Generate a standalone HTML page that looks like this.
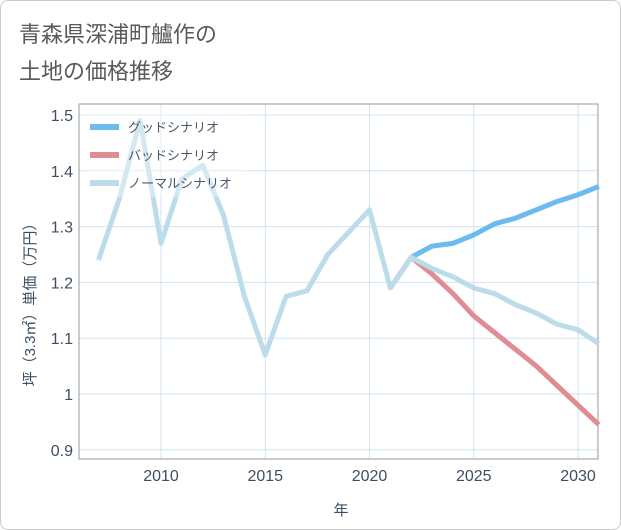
<!DOCTYPE html>
<html><head><meta charset="utf-8"><style>
body{margin:0;background:#fff;}
#card{position:absolute;left:0;top:0;width:619px;height:528px;border:1px solid #ccc;border-radius:8px;background:#fff;overflow:hidden;}
svg{position:absolute;left:0;top:0;font-family:"Liberation Sans","Noto Sans CJK JP",sans-serif;}
</style></head><body>
<div id="card">
<svg id="chart" width="621" height="530">
<text x="18" y="41" font-size="22" fill="#5a5a5a">青森県深浦町艫作の</text>
<text x="18" y="78" font-size="22" fill="#5a5a5a">土地の価格推移</text>
<g id="grid"></g>
<rect x="78" y="103" width="519" height="355" fill="none" stroke="#999" stroke-width="1"/>
<g id="series"></g>
<g id="legend"></g>
<text x="340" y="514" font-size="15" fill="#3d4f63" text-anchor="middle">年</text>
<text transform="translate(34,300) rotate(-90)" font-size="15" fill="#3d4f63" text-anchor="middle">坪（3.3㎡）単価（万円）</text>
</svg></div>
<script>
const years=[2007,2008,2009,2010,2011,2012,2013,2014,2015,2016,2017,2018,2019,2020,2021,2022,2023,2024,2025,2026,2027,2028,2029,2030,2031];
const normalVals=[1.24,1.35,1.49,1.27,1.385,1.41,1.32,1.175,1.07,1.175,1.185,1.25,1.29,1.33,1.19,1.245,1.225,1.21,1.19,1.18,1.16,1.145,1.125,1.115,1.09];
const goodYears=[2022,2023,2024,2025,2026,2027,2028,2029,2030,2031];
const goodVals=[1.245,1.265,1.27,1.285,1.305,1.315,1.33,1.345,1.357,1.372];
const badYears=[2021,2022,2023,2024,2025,2026,2027,2028,2029,2030,2031];
const badVals=[1.19,1.245,1.215,1.18,1.14,1.11,1.08,1.05,1.015,0.98,0.945];
const xTicks=[2010,2015,2020,2025,2030];
const yTicks=[0.9,1,1.1,1.2,1.3,1.4,1.5];
const yTickLabels=["0.9","1","1.1","1.2","1.3","1.4","1.5"];
const X=y=>160+(y-2010)*20.85;
const Y=v=>393-(v-1)*558;
const ns="http://www.w3.org/2000/svg";
function mk(t,a,p){const e=document.createElementNS(ns,t);for(const k in a)e.setAttribute(k,a[k]);p.appendChild(e);return e;}
const grid=document.getElementById('grid');
xTicks.forEach(t=>{
 const l=mk('line',{x1:X(t),x2:X(t),y1:103,y2:458,stroke:'#cfe3f0'},grid);
 
 
 const tx=mk('text',{x:X(t),y:480,'font-size':16,fill:'#3d4f63','text-anchor':'middle'},grid);
 tx.textContent=t;
 
 
});
yTicks.forEach((t,i)=>{
 const l=mk('line',{x1:78,x2:597,y1:Y(t),y2:Y(t),stroke:'#cfe3f0'},grid);
 
 
 const tx=mk('text',{x:72,y:Y(t)+6,'font-size':16,fill:'#3d4f63','text-anchor':'end'},grid);
 tx.textContent=yTickLabels[i];
 
 
});
const ser=document.getElementById('series');
function line(xs,vs,c,name){
 const p=mk('polyline',{points:xs.map((y,i)=>X(y)+','+Y(vs[i])).join(' '),fill:'none',stroke:c,'stroke-width':5,'stroke-linejoin':'round'},ser);
 
 
}
line(badYears,badVals,'#e08c94','bad-scenario-line');
line(goodYears,goodVals,'#6bbaf0','good-scenario-line');
line(years,normalVals,'#bcdcea','normal-scenario-line');
const lg=document.getElementById('legend');
const bg=mk('rect',{x:84,y:108,width:160,height:88,fill:'rgba(255,255,255,0.35)'},lg);


[['グッドシナリオ','#6bbaf0'],['バッドシナリオ','#e08c94'],['ノーマルシナリオ','#bcdcea']].forEach((d,i)=>{
 const y=126+i*28;
 const s=mk('rect',{x:89,y:y-3,width:29,height:6,fill:d[1]},lg);
 
 
 const t=mk('text',{x:127,y:y+5,'font-size':13,fill:'#4a5868'},lg);
 t.textContent=d[0];
 
 
});
</script>
</body></html>
